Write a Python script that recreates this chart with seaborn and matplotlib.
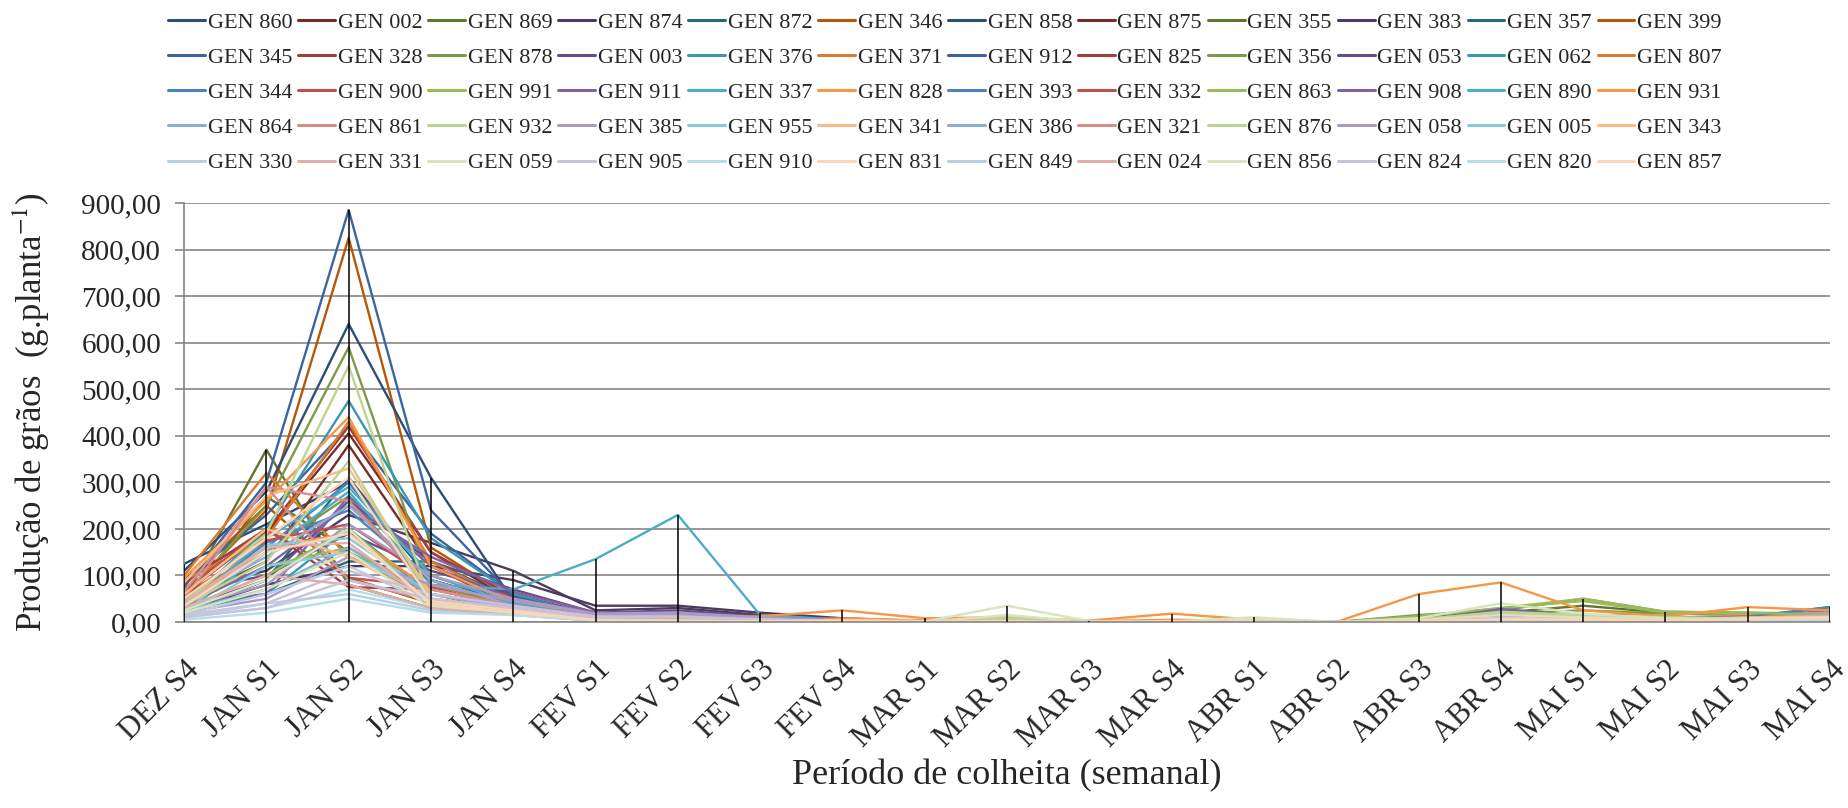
import numpy as np
import pandas as pd
import matplotlib
matplotlib.use('Agg')
import matplotlib.pyplot as plt
import matplotlib.transforms as mtransforms
import seaborn as sns
from matplotlib.ticker import FuncFormatter

# categories (weekly harvest periods)
periodos = ['DEZ S4', 'JAN S1', 'JAN S2', 'JAN S3', 'JAN S4',
            'FEV S1', 'FEV S2', 'FEV S3', 'FEV S4',
            'MAR S1', 'MAR S2', 'MAR S3', 'MAR S4',
            'ABR S1', 'ABR S2', 'ABR S3', 'ABR S4',
            'MAI S1', 'MAI S2', 'MAI S3', 'MAI S4']

# genotypes, in legend order (row by row)
genotipos = ['GEN 860', 'GEN 002', 'GEN 869', 'GEN 874', 'GEN 872', 'GEN 346',
             'GEN 858', 'GEN 875', 'GEN 355', 'GEN 383', 'GEN 357', 'GEN 399',
             'GEN 345', 'GEN 328', 'GEN 878', 'GEN 003', 'GEN 376', 'GEN 371',
             'GEN 912', 'GEN 825', 'GEN 356', 'GEN 053', 'GEN 062', 'GEN 807',
             'GEN 344', 'GEN 900', 'GEN 991', 'GEN 911', 'GEN 337', 'GEN 828',
             'GEN 393', 'GEN 332', 'GEN 863', 'GEN 908', 'GEN 890', 'GEN 931',
             'GEN 864', 'GEN 861', 'GEN 932', 'GEN 385', 'GEN 955', 'GEN 341',
             'GEN 386', 'GEN 321', 'GEN 876', 'GEN 058', 'GEN 005', 'GEN 343',
             'GEN 330', 'GEN 331', 'GEN 059', 'GEN 905', 'GEN 910', 'GEN 831',
             'GEN 849', 'GEN 024', 'GEN 856', 'GEN 824', 'GEN 820', 'GEN 857']

# grain production (g.planta-1) per period
gen_860 = [125, 210, 300, 90, 40, 10, 5, 3, 2, 0, 2, 0, 1, 0, 0, 2, 8, 5, 3, 6, 10]
gen_002 = [95, 190, 405, 150, 45, 8, 4, 2, 1, 0, 1, 0, 0, 1, 0, 1, 5, 4, 2, 3, 5]
gen_869 = [50, 370, 80, 30, 20, 5, 3, 2, 0, 1, 3, 0, 1, 2, 0, 10, 20, 35, 20, 18, 12]
gen_874 = [70, 110, 230, 170, 110, 25, 30, 15, 5, 1, 2, 0, 1, 0, 0, 3, 15, 8, 5, 4, 6]
gen_872 = [30, 60, 130, 130, 50, 10, 5, 3, 2, 1, 1, 0, 0, 1, 0, 1, 6, 4, 2, 3, 4]
gen_346 = [60, 240, 825, 160, 50, 8, 4, 2, 2, 0, 1, 0, 1, 0, 0, 2, 6, 8, 5, 10, 8]
gen_858 = [110, 280, 640, 310, 45, 12, 6, 3, 2, 1, 1, 0, 0, 0, 0, 3, 10, 6, 8, 12, 15]
gen_875 = [45, 130, 380, 120, 35, 6, 3, 2, 1, 0, 1, 0, 0, 0, 0, 2, 5, 3, 2, 4, 3]
gen_355 = [40, 270, 150, 60, 25, 5, 2, 1, 0, 0, 2, 0, 0, 1, 0, 8, 15, 12, 20, 15, 10]
gen_383 = [25, 80, 120, 120, 90, 35, 35, 20, 8, 2, 3, 1, 1, 0, 0, 5, 22, 10, 6, 5, 8]
gen_357 = [20, 90, 310, 90, 40, 8, 4, 2, 1, 0, 1, 0, 0, 0, 0, 1, 4, 2, 2, 3, 4]
gen_399 = [80, 250, 95, 40, 25, 6, 3, 2, 3, 1, 1, 0, 2, 1, 0, 5, 12, 10, 6, 14, 12]

gen_345 = [90, 230, 420, 190, 60, 10, 5, 3, 2, 0, 1, 0, 0, 0, 0, 2, 18, 6, 5, 8, 22]
gen_328 = [60, 195, 420, 150, 55, 8, 4, 2, 1, 0, 1, 0, 0, 1, 0, 1, 6, 3, 2, 3, 4]
gen_878 = [55, 250, 590, 80, 35, 8, 4, 2, 1, 0, 3, 0, 1, 1, 0, 6, 18, 25, 18, 15, 12]
gen_003 = [65, 100, 190, 110, 60, 15, 20, 10, 4, 1, 2, 0, 0, 0, 0, 2, 12, 6, 4, 3, 5]
gen_376 = [35, 200, 475, 180, 60, 10, 5, 3, 2, 1, 1, 0, 0, 0, 0, 1, 5, 3, 2, 4, 5]
gen_371 = [100, 320, 140, 50, 30, 5, 3, 2, 5, 2, 2, 0, 3, 1, 0, 4, 10, 8, 5, 12, 10]
gen_912 = [75, 300, 885, 240, 55, 12, 6, 3, 2, 0, 1, 0, 1, 0, 0, 4, 25, 8, 6, 10, 32]
gen_825 = [85, 200, 75, 70, 35, 6, 3, 2, 1, 0, 1, 0, 0, 0, 0, 2, 4, 3, 2, 2, 3]
gen_356 = [45, 150, 270, 60, 25, 5, 3, 1, 0, 0, 4, 0, 1, 2, 0, 15, 25, 50, 22, 20, 18]
gen_053 = [30, 90, 260, 130, 70, 20, 25, 12, 3, 1, 1, 0, 0, 0, 0, 3, 28, 12, 5, 4, 6]
gen_062 = [25, 60, 200, 60, 35, 6, 3, 2, 1, 0, 1, 0, 0, 1, 0, 1, 5, 3, 2, 3, 4]
gen_807 = [90, 180, 430, 130, 45, 6, 4, 2, 6, 2, 3, 1, 4, 1, 0, 5, 12, 10, 6, 14, 18]

gen_344 = [50, 160, 300, 100, 40, 8, 4, 2, 1, 0, 1, 0, 0, 0, 0, 3, 20, 8, 5, 9, 25]
gen_900 = [70, 200, 95, 75, 30, 5, 3, 2, 1, 0, 1, 0, 0, 0, 0, 1, 4, 2, 2, 3, 4]
gen_991 = [35, 120, 160, 45, 20, 4, 2, 1, 0, 0, 5, 0, 1, 3, 0, 12, 30, 45, 20, 18, 15]
gen_911 = [40, 60, 270, 120, 50, 15, 15, 8, 3, 1, 1, 0, 0, 0, 0, 2, 20, 8, 4, 3, 5]
gen_337 = [20, 150, 280, 80, 70, 135, 230, 15, 5, 2, 2, 0, 1, 2, 0, 2, 8, 4, 3, 5, 6]
gen_828 = [95, 260, 440, 120, 40, 6, 4, 2, 8, 3, 4, 1, 5, 2, 0, 8, 15, 12, 8, 15, 20]
gen_393 = [40, 170, 240, 90, 35, 8, 4, 2, 1, 0, 1, 0, 0, 0, 0, 5, 25, 10, 8, 12, 32]
gen_332 = [55, 175, 210, 90, 35, 6, 3, 2, 1, 0, 1, 0, 0, 0, 0, 1, 5, 3, 2, 3, 4]
gen_863 = [30, 100, 200, 50, 25, 5, 3, 1, 0, 0, 4, 0, 1, 2, 0, 12, 30, 50, 22, 20, 15]
gen_908 = [35, 120, 250, 140, 65, 20, 20, 10, 3, 1, 2, 0, 0, 0, 0, 3, 28, 10, 5, 4, 6]
gen_890 = [30, 180, 290, 100, 40, 8, 4, 2, 1, 0, 1, 0, 0, 0, 0, 1, 6, 3, 2, 4, 5]
gen_931 = [45, 160, 190, 70, 35, 10, 8, 12, 25, 8, 10, 3, 18, 5, 0, 60, 85, 25, 12, 32, 25]

gen_864 = [45, 140, 250, 90, 35, 6, 3, 2, 1, 0, 1, 0, 0, 0, 0, 2, 15, 6, 4, 6, 18]
gen_861 = [65, 290, 260, 70, 35, 6, 3, 2, 1, 0, 1, 0, 0, 0, 0, 1, 4, 3, 2, 3, 4]
gen_932 = [40, 190, 550, 40, 30, 6, 3, 2, 1, 0, 8, 0, 1, 3, 0, 6, 20, 12, 8, 8, 6]
gen_385 = [30, 80, 210, 100, 50, 18, 20, 10, 3, 1, 1, 0, 0, 0, 0, 2, 15, 6, 3, 3, 4]
gen_955 = [20, 165, 180, 60, 30, 6, 3, 2, 1, 0, 1, 0, 0, 0, 0, 1, 5, 3, 2, 3, 4]
gen_341 = [85, 270, 330, 60, 30, 5, 3, 2, 4, 2, 3, 0, 2, 1, 0, 4, 10, 8, 5, 10, 12]
gen_386 = [25, 70, 160, 60, 30, 5, 3, 1, 1, 0, 1, 0, 0, 0, 0, 2, 12, 5, 3, 5, 10]
gen_321 = [50, 290, 90, 45, 25, 4, 2, 1, 1, 0, 1, 0, 0, 0, 0, 1, 3, 2, 2, 2, 3]
gen_876 = [35, 130, 345, 50, 25, 5, 3, 2, 1, 0, 12, 0, 1, 4, 0, 5, 22, 15, 10, 8, 6]
gen_058 = [20, 50, 140, 80, 45, 15, 15, 8, 2, 1, 1, 0, 0, 0, 0, 2, 12, 5, 3, 3, 4]
gen_005 = [15, 120, 150, 50, 25, 5, 3, 2, 1, 0, 1, 0, 0, 0, 0, 1, 4, 2, 2, 3, 4]
gen_343 = [60, 200, 140, 45, 30, 5, 3, 2, 4, 2, 3, 0, 2, 1, 0, 3, 8, 6, 4, 8, 10]

gen_330 = [15, 60, 120, 40, 25, 4, 2, 1, 1, 0, 1, 0, 0, 0, 0, 1, 8, 4, 2, 4, 8]
gen_331 = [40, 160, 170, 40, 20, 4, 2, 1, 1, 0, 1, 0, 0, 0, 0, 1, 3, 2, 1, 2, 3]
gen_059 = [20, 70, 150, 30, 20, 4, 2, 1, 1, 0, 15, 0, 1, 5, 0, 4, 15, 10, 6, 5, 4]
gen_905 = [15, 40, 110, 60, 35, 12, 12, 6, 2, 1, 1, 0, 0, 0, 0, 1, 10, 4, 2, 2, 3]
gen_910 = [10, 30, 70, 30, 20, 4, 2, 1, 1, 0, 1, 0, 0, 0, 0, 1, 3, 2, 1, 2, 3]
gen_831 = [50, 180, 310, 45, 25, 4, 2, 2, 3, 1, 2, 0, 2, 1, 0, 3, 8, 6, 4, 8, 10]
gen_849 = [10, 40, 60, 25, 15, 3, 2, 1, 1, 0, 1, 0, 0, 0, 0, 1, 6, 3, 2, 3, 6]
gen_024 = [30, 100, 80, 30, 15, 3, 2, 1, 1, 0, 1, 0, 0, 0, 0, 1, 3, 2, 1, 2, 3]
gen_856 = [25, 90, 200, 35, 20, 5, 3, 2, 1, 1, 35, 2, 1, 10, 0, 8, 40, 18, 8, 6, 5]
gen_824 = [10, 30, 90, 50, 30, 10, 10, 5, 2, 1, 1, 0, 0, 0, 0, 1, 8, 3, 2, 2, 3]
gen_820 = [5, 20, 50, 20, 15, 3, 2, 1, 1, 0, 1, 0, 0, 0, 0, 1, 3, 2, 1, 2, 3]
gen_857 = [35, 150, 190, 40, 20, 4, 2, 2, 3, 1, 2, 0, 2, 1, 0, 2, 6, 5, 3, 6, 8]

producao = [gen_860, gen_002, gen_869, gen_874, gen_872, gen_346,
            gen_858, gen_875, gen_355, gen_383, gen_357, gen_399,
            gen_345, gen_328, gen_878, gen_003, gen_376, gen_371,
            gen_912, gen_825, gen_356, gen_053, gen_062, gen_807,
            gen_344, gen_900, gen_991, gen_911, gen_337, gen_828,
            gen_393, gen_332, gen_863, gen_908, gen_890, gen_931,
            gen_864, gen_861, gen_932, gen_385, gen_955, gen_341,
            gen_386, gen_321, gen_876, gen_058, gen_005, gen_343,
            gen_330, gen_331, gen_059, gen_905, gen_910, gen_831,
            gen_849, gen_024, gen_856, gen_824, gen_820, gen_857]

# office-style palette: 5 shade levels of 6 accent colours
niveis = [['#2C4D75', '#772C2A', '#5F7530', '#4D3B62', '#276A7C', '#B65708'],
          ['#3B64A0', '#A33E3B', '#7E9A48', '#664F86', '#3A97AE', '#DC7A2E'],
          ['#4F81BD', '#C0504D', '#9BBB59', '#8064A2', '#4BACC6', '#F79646'],
          ['#8CADD4', '#D68D8B', '#BED393', '#AC9AC3', '#8AC9DA', '#FABB87'],
          ['#B9CDE5', '#E1ADAB', '#D7E4BD', '#CCC1DA', '#B7DEE8', '#FBD5B5']]
cores = [niveis[i // 12][i % 6] for i in range(len(genotipos))]

#%%
df = pd.DataFrame({
    'pos': np.tile(np.arange(len(periodos)), len(genotipos)),
    'genotipo': np.repeat(genotipos, len(periodos)),
    'producao': np.concatenate(producao),
})

sns.set_theme(style='white')
plt.rcParams['font.family'] = ['Liberation Serif', 'DejaVu Serif']
plt.rcParams['mathtext.fontset'] = 'stix'

fig = plt.figure(figsize=(18.48, 8.08), dpi=100)
ax = fig.add_axes([0.0996, 0.2302, 0.8907, 0.5186])

cinza = '#868686'
ax.yaxis.grid(True, color=cinza, lw=1.2)
ax.set_axisbelow(True)

sns.lineplot(data=df, x='pos', y='producao', hue='genotipo', hue_order=genotipos,
             palette=cores, sort=False, errorbar=None, linewidth=1.7, ax=ax)

# drop lines (from the highest series down to the axis)
topo = df.groupby('pos')['producao'].max()
ax.vlines(topo.index, 0, topo.values, color='black', lw=1.1, zorder=5)

ax.set_xlim(0, len(periodos) - 1)
ax.set_ylim(0, 900)
ax.set_yticks(np.arange(0, 901, 100))
ax.yaxis.set_major_formatter(FuncFormatter(lambda v, p: f'{v:.2f}'.replace('.', ',')))
ax.set_xticks(range(len(periodos)))
ax.set_xticklabels(periodos, rotation=45, ha='right', rotation_mode='anchor')

# nudge the rotated labels a little to the left so the last one stays inside
desloc = mtransforms.ScaledTranslation(-6 / 72, 0, fig.dpi_scale_trans)
for t in ax.get_xticklabels():
    t.set_transform(t.get_transform() + desloc)

ax.tick_params(axis='y', labelsize=21, length=6.5, width=1.2, color=cinza, pad=10, left=True)
ax.tick_params(axis='x', labelsize=22, length=0, pad=24)
for s in ['top', 'right']:
    ax.spines[s].set_visible(False)
for s in ['left', 'bottom']:
    ax.spines[s].set_color(cinza)
    ax.spines[s].set_linewidth(1.2)

ax.set_ylabel('Produção de grãos  (g.planta$^{-1}$)', fontsize=25)
ax.yaxis.set_label_coords(-0.080, 0.5)
ax.set_xlabel('Período de colheita (semanal)', fontsize=26)
ax.xaxis.set_label_coords(0.5, -0.327)

# legend: 5 rows x 12 columns, filled row by row
handles, labels = ax.get_legend_handles_labels()
ax.get_legend().remove()
ordem = [r * 12 + c for c in range(12) for r in range(5)]
for h in handles:
    h.set_linewidth(2.2)
fig.legend([handles[i] for i in ordem], [labels[i] for i in ordem], ncol=12,
           loc='upper left', bbox_to_anchor=(168 / 1848, 1 - 12 / 808),
           frameon=False, fontsize=16, handlelength=1.66, handletextpad=0.13,
           columnspacing=0.25, labelspacing=0.66, borderpad=0, borderaxespad=0)

fig.savefig('out.png', dpi=100)
